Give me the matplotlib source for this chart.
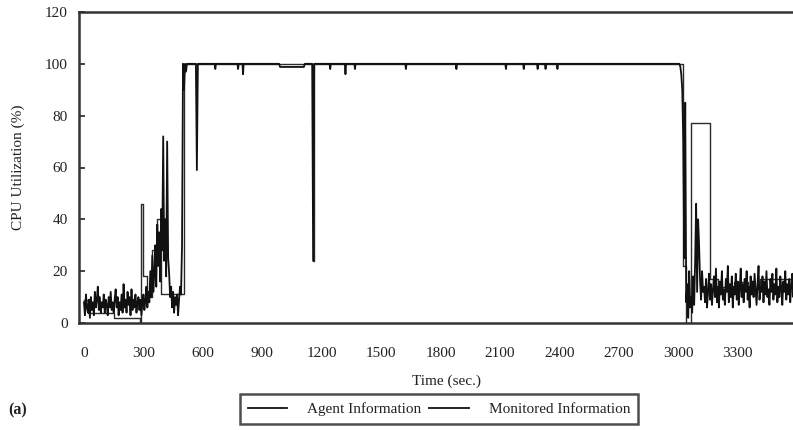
import numpy as np
import matplotlib
matplotlib.use("Agg")
import matplotlib.pyplot as plt
from matplotlib.lines import Line2D

plt.rcParams['font.family'] = ['Liberation Serif', 'DejaVu Serif']

# ---- Monitored information (sampled every 5 s in the noisy phases) ----
mon_early = [
    8, 3, 11, 6, 4, 9, 2, 10, 5, 8, 3, 12, 6, 9, 14, 5, 10, 4, 8, 6,
    11, 4, 9, 7, 3, 10, 6, 12, 5, 8, 4, 9, 13, 6, 10, 3, 8, 5, 11, 4,
    15, 6, 9, 4, 12, 7, 10, 3, 13, 5, 9, 6, 11, 4, 8, 10, 5, 9, 3, 8,
    11, 5, 9, 14, 6, 12, 8, 20, 10, 26, 12, 19, 30, 14, 38, 22, 35, 16, 44, 28,
    72, 24, 40, 18, 70, 25, 19, 10, 14, 6, 12, 4, 10, 7, 11, 3, 9,
]
mon_early_t0, mon_step = 0, 5

# saturated phase: explicit samples around the rise and the dips
mon_plateau_t = [485, 490, 495, 500, 505, 510, 515, 520, 565, 570, 575,
                 660, 663, 666, 775, 778, 781, 800, 803, 806,
                 985, 990, 1110, 1115, 1152, 1157, 1162,
                 1240, 1243, 1246, 1317, 1320, 1323, 1365, 1368, 1371,
                 1622, 1625, 1628, 1877, 1880, 1883, 2127, 2130, 2133,
                 2217, 2220, 2223, 2287, 2290, 2293, 2327, 2330, 2333,
                 2387, 2390, 2393, 2995]
mon_plateau_v = [14, 11, 30, 100, 90, 100, 97, 100, 100, 59, 100,
                 100, 98, 100, 100, 98, 100, 100, 96, 100,
                 100, 98.8, 98.8, 100, 100, 24, 100,
                 100, 98, 100, 100, 96, 100, 100, 98, 100,
                 100, 98, 100, 100, 98, 100, 100, 98, 100,
                 100, 98, 100, 100, 98, 100, 100, 98, 100,
                 100, 98, 100, 100]

mon_drop = [100, 100, 99, 96, 90, 70, 25, 85, 8, 15, 2, 20, 6, 10, 4, 18,
            7, 24, 46, 12, 40, 30, 16, 9, 20, 12]
mon_drop_t0 = 3000

mon_late = [
    14, 8, 17, 6, 12, 19, 9, 15, 7, 13,
    18, 10, 21, 8, 14, 6, 16, 11, 20, 9,
    13, 7, 17, 12, 22, 8, 15, 10, 18, 6,
    14, 11, 19, 9, 16, 7, 13, 21, 10, 15,
    8, 17, 12, 20, 9, 14, 6, 18, 11, 16,
    10, 19, 13, 7, 15, 22, 9, 14, 12, 18,
    8, 16, 11, 20, 10, 13, 7, 17, 12, 19,
    9, 15, 11, 21, 8, 14, 10, 18, 13, 7,
    16, 12, 20, 9, 15, 11, 17, 8, 14, 19,
    10, 13, 16,
]
mon_late_t0 = 3130

# ---- Agent information (held between reports) ----
agent_t = [0, 20, 150, 283, 290, 300, 320, 345, 370, 390, 505,
           1155, 1159, 3025, 3040, 3065, 3160, 3200, 3280, 3350, 3410, 3570, 3690]
agent_v = [9, 4, 2, 0, 46, 18, 10, 28, 40, 11, 100,
           24, 100, 22, 0, 77, 17, 14, 16, 13, 17, 15, 15]

x_ticks = list(range(0, 3301, 300))
y_ticks = list(range(0, 121, 20))
legend_labels = ["Agent Information", "Monitored Information"]

# assemble the monitored trace
t_early = mon_early_t0 + mon_step * np.arange(len(mon_early))
t_drop = mon_drop_t0 + mon_step * np.arange(len(mon_drop))
t_late = mon_late_t0 + mon_step * np.arange(len(mon_late))
mon_t = np.concatenate([t_early, mon_plateau_t, t_drop, t_late])
mon_v = np.concatenate([mon_early, mon_plateau_v, mon_drop, mon_late])

W, H = 793, 430
fig = plt.figure(figsize=(W / 100, H / 100), dpi=100)
ax = fig.add_axes([79 / W, 1 - 323 / H, 736 / W, 311 / H])

ax.plot(agent_t, agent_v, drawstyle='steps-post', color='#2b2b2b', lw=1.0)
ax.plot(mon_t, mon_v, color='#111111', lw=1.3)

ax.set_xlim(-25, 3690)
ax.set_ylim(0, 120)
ax.set_xticks(x_ticks)
ax.set_yticks(y_ticks)
ax.tick_params(axis='both', direction='in', labelsize=11, colors='#222222')
ax.tick_params(axis='x', length=0, pad=17)
ax.tick_params(axis='y', length=4, width=1.2, pad=8)
for s in ax.spines.values():
    s.set_linewidth(1.8)
    s.set_color('#333333')

ax.set_xlabel("Time (sec.)", fontsize=11, color='#222222')
ax.xaxis.set_label_coords(0.5, -0.165)
ax.set_ylabel("CPU Utilization (%)", fontsize=11, color='#222222')
ax.yaxis.set_label_coords(-0.073, 0.5)

handles = [Line2D([], [], color='#111111', lw=1.3) for _ in legend_labels]
leg = fig.legend(handles, legend_labels, loc='center', ncol=2,
                 bbox_to_anchor=(439 / W, 1 - 409 / H), fontsize=11,
                 frameon=True, fancybox=False, handlelength=2.6,
                 handletextpad=1.3, columnspacing=0.5, borderpad=0.5)
leg.get_frame().set_edgecolor('#222222')
leg.get_frame().set_linewidth(1.8)
for txt in leg.get_texts():
    txt.set_color('#222222')

fig.text(8 / W, 1 - 410 / H, "(a)", fontsize=11.5, fontweight='bold',
         va='center', ha='left', color='#222222')

fig.savefig("out.png", dpi=100)
